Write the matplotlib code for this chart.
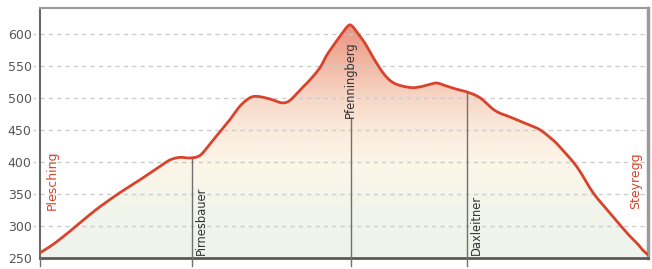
import numpy as np
import matplotlib
matplotlib.use("Agg")
import matplotlib.pyplot as plt
from matplotlib.colors import LinearSegmentedColormap

# Profile data: distance (arbitrary units) and elevation (m)
distance = [0, 12, 27, 47, 60, 80, 100, 120, 130, 140, 150, 160, 170, 180, 190, 200,
            210, 218, 230, 242, 250, 260, 270, 280, 287, 300, 308, 312, 318, 325,
            335, 345, 355, 370, 380, 390, 397, 405, 415, 427, 440, 455, 470, 487,
            500, 513, 520, 537, 553, 570, 587, 597, 603, 608]
elevation = [258, 270, 288, 314, 330, 352, 372, 393, 403, 407, 406, 410, 428, 447, 466,
             487, 500, 502, 498, 492, 496, 512, 528, 547, 567, 596, 612, 612, 600,
             585, 558, 535, 522, 516, 517, 521, 523, 519, 514, 509, 500, 480, 470,
             459, 450, 434, 423, 392, 352, 320, 289, 273, 262, 255]

waypoints = ["Pirnesbauer", "Pfenningberg", "Daxleitner"]
waypoint_x = [152, 311, 427]
end_labels = ["Plesching", "Steyregg"]
yticks = [250, 300, 350, 400, 450, 500, 550, 600]

fig = plt.figure(figsize=(6.52, 2.69), dpi=100)
ax = fig.add_axes([40 / 652, 1 - 258 / 269, 608 / 652, 250 / 269])
ax.set_xlim(0, 608)
ax.set_ylim(250, 640)

x = np.array(distance, float)
y = np.array(elevation, float)
# densify with smooth Catmull-Rom interpolation
xs, ys = [], []
for i in range(len(x) - 1):
    p0 = (x[i - 1], y[i - 1]) if i > 0 else (x[i], y[i])
    p1 = (x[i], y[i])
    p2 = (x[i + 1], y[i + 1])
    p3 = (x[i + 2], y[i + 2]) if i + 2 < len(x) else (x[i + 1], y[i + 1])
    for t in np.linspace(0, 1, 10, endpoint=False):
        t2, t3 = t * t, t * t * t
        for k, arr in ((0, xs), (1, ys)):
            v = 0.5 * ((2 * p1[k]) + (-p0[k] + p2[k]) * t +
                       (2 * p0[k] - 5 * p1[k] + 4 * p2[k] - p3[k]) * t2 +
                       (-p0[k] + 3 * p1[k] - 3 * p2[k] + p3[k]) * t3)
            arr.append(v)
xs.append(x[-1]); ys.append(y[-1])
xs = np.array(xs); ys = np.array(ys)

# gradient fill
cmap = LinearSegmentedColormap.from_list("grad", [
    (0.0, "#eef3ec"), (0.22, "#f2f5ea"), (0.40, "#fdf6e8"),
    (0.55, "#fbeadc"), (0.68, "#f8d8c8"), (0.85, "#f1b4a0"), (1.0, "#ea9282")])
grad = np.linspace(0, 1, 256).reshape(-1, 1)
im = ax.imshow(grad, extent=[0, 608, 250, 615], origin="lower", aspect="auto",
               cmap=cmap, zorder=1)
poly = ax.fill_between(xs, 250, ys, color="none", lw=0)
im.set_clip_path(poly.get_paths()[0], transform=ax.transData)

# grid
for yt in yticks[1:]:
    ax.axhline(yt, color="#cccccc", lw=1.0, ls=(0, (3, 3)), zorder=2)
    ax.plot([-7, 0], [yt, yt], color="#cccccc", lw=1.0, ls=(0, (2, 2)),
            clip_on=False, zorder=2)

# waypoint lines
tops = np.interp(waypoint_x, xs, ys)
tops[1] = 468
for wx, top in zip([0] + waypoint_x, [250] + list(tops)):
    ax.plot([wx, wx], [238, top], color="#707070", lw=1.0, clip_on=False, zorder=3)

ax.plot(xs, ys, color="#d8432c", lw=2.0, zorder=4, solid_capstyle="round")

# labels
ax.text(waypoint_x[0] + 3, 254, waypoints[0], rotation=90, ha="left", va="bottom",
        fontsize=8.3, color="#333333", zorder=5)
ax.text(waypoint_x[1] - 1, 469, waypoints[1], rotation=90, ha="center", va="bottom",
        fontsize=8.3, color="#333333", zorder=5)
ax.text(waypoint_x[2] + 3, 254, waypoints[2], rotation=90, ha="left", va="bottom",
        fontsize=8.3, color="#333333", zorder=5)
ax.text(12, 372, end_labels[0], rotation=90, ha="center", va="center",
        fontsize=9, color="#d8432c", zorder=5)
ax.text(596, 370, end_labels[1], rotation=90, ha="center", va="center",
        fontsize=9, color="#d8432c", zorder=5)

ax.set_yticks(yticks)
ax.set_yticklabels([str(v) for v in yticks], fontsize=9, color="#555555")
ax.tick_params(axis="y", length=0, pad=6)
ax.set_xticks([])

for side, sp in ax.spines.items():
    sp.set_color("#9a9a9a")
    sp.set_linewidth(1.5)
ax.spines["left"].set_color("#6a6a6a")
ax.spines["bottom"].set_color("#5a5a5a")
ax.spines["bottom"].set_linewidth(2.0)
ax.spines["right"].set_linewidth(2.5)

fig.savefig("out.png", dpi=100)
